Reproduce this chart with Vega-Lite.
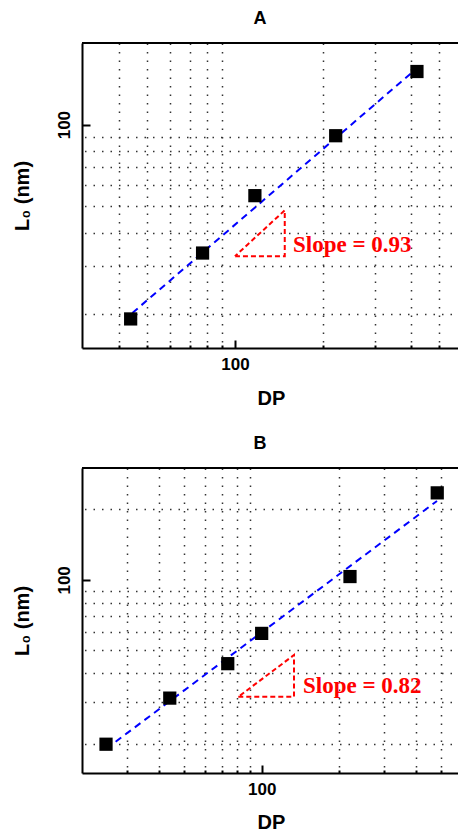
{
  "$schema": "https://vega.github.io/schema/vega-lite/v6.json",
  "background": "white",
  "padding": {"left": 12, "top": 10, "right": 0, "bottom": 0},
  "bounds": "flush",
  "spacing": 120,
  "config": {
    "view": {"stroke": null},
    "axis": {
      "gridDash": [1.5, 7],
      "gridColor": "#333333",
      "gridWidth": 1.5,
      "tickColor": "black",
      "tickWidth": 2,
      "domainColor": "black",
      "domainWidth": 2,
      "labelFont": "Liberation Sans",
      "labelFontSize": 17,
      "labelFontWeight": "bold",
      "labelColor": "black",
      "labelFlush": false,
      "labelOverlap": false,
      "labelBound": false,
      "titleFont": "Liberation Sans",
      "titleFontSize": 20,
      "titleFontWeight": "bold",
      "titleColor": "black"
    },
    "title": {"font": "Liberation Sans", "fontSize": 18, "fontWeight": "bold", "color": "black", "frame": "group", "dx": -11, "offset": 14}
  },
  "vconcat": [
    {
      "width": 378,
      "height": 305,
      "title": {"text": "A"},
      "resolve": {"axis": {"y": "independent"}},
      "layer": [
        {
          "data": {"values": [{"edge": "top"}]},
          "mark": {"type": "rule", "color": "black", "strokeWidth": 2},
          "encoding": {"y": {"datum": 200, "type": "quantitative", "scale": {"type": "log", "domain": [15, 200], "nice": false}, "axis": null}}
        },
        {
          "data": {"values": [{"DP": 44.6, "L0": 20.2}, {"DP": 414, "L0": 159.7}]},
          "mark": {"type": "line", "color": "#0000ff", "strokeWidth": 2, "strokeDash": [7, 5]},
          "encoding": {
            "x": {"field": "DP", "type": "quantitative", "scale": {"type": "log", "domain": [30, 588], "nice": false}},
            "y": {"field": "L0", "type": "quantitative", "scale": {"type": "log", "domain": [15, 200], "nice": false},
              "axis": {"orient": "right", "title": null, "values": [20, 30, 40, 50, 60, 70, 80, 90], "grid": true, "labels": false, "ticks": false, "domain": false}}
          }
        },
        {
          "data": {"values": [{"DP": 100, "L0": 32.7, "i": 1}, {"DP": 148, "L0": 32.7, "i": 2}, {"DP": 148, "L0": 48.3, "i": 3}, {"DP": 100, "L0": 32.7, "i": 4}]},
          "mark": {"type": "line", "color": "#ff0000", "strokeWidth": 2, "strokeDash": [5, 3]},
          "encoding": {
            "x": {"field": "DP", "type": "quantitative", "scale": {"type": "log", "domain": [30, 588], "nice": false}},
            "y": {"field": "L0", "type": "quantitative", "scale": {"type": "log", "domain": [15, 200], "nice": false}, "axis": null},
            "order": {"field": "i", "type": "quantitative"}
          }
        },
        {
          "data": {"values": [{"DP": 44, "L0": 19.2}, {"DP": 77.5, "L0": 33.6}, {"DP": 117, "L0": 54.7}, {"DP": 221, "L0": 91}, {"DP": 419, "L0": 157}]},
          "mark": {"type": "point", "shape": "square", "filled": true, "color": "black", "opacity": 1, "size": 175},
          "encoding": {
            "x": {"field": "DP", "type": "quantitative", "scale": {"type": "log", "domain": [30, 588], "nice": false},
              "axis": {"title": "DP", "values": [40, 50, 60, 70, 80, 90, 100, 200, 300, 400, 500], "grid": true,
                "labelExpr": "datum.value == 100 ? '100' : ''",
                "gridOpacity": {"condition": {"test": "datum.value == 100", "value": 0}, "value": 1},
                "tickSize": {"condition": {"test": "datum.value == 100", "value": -8}, "value": -3},
                "labelPadding": 24, "labelBaseline": "middle", "titlePadding": 11}},
            "y": {"field": "L0", "type": "quantitative", "scale": {"type": "log", "domain": [15, 200], "nice": false},
              "axis": {"orient": "left", "title": "L₀ (nm)", "values": [100], "grid": false, "tickSize": -8,
                "labelAngle": {"expr": "-90"}, "labelAlign": "center", "labelBaseline": "middle", "labelPadding": 26, "titlePadding": 23}}
          }
        },
        {
          "data": {"values": [{"DP": 158, "L0": 36.1, "label": "Slope = 0.93"}]},
          "mark": {"type": "text", "font": "Liberation Serif", "fontSize": 23, "fontWeight": "bold", "color": "#ff0000", "align": "left", "baseline": "middle"},
          "encoding": {
            "x": {"field": "DP", "type": "quantitative", "scale": {"type": "log", "domain": [30, 588], "nice": false}},
            "y": {"field": "L0", "type": "quantitative", "scale": {"type": "log", "domain": [15, 200], "nice": false}, "axis": null},
            "text": {"field": "label"}
          }
        }
      ]
    },
    {
      "width": 378,
      "height": 305,
      "title": {"text": "B"},
      "resolve": {"axis": {"y": "independent"}},
      "layer": [
        {
          "data": {"values": [{"edge": "top"}]},
          "mark": {"type": "rule", "color": "black", "strokeWidth": 2},
          "encoding": {"y": {"datum": 300, "type": "quantitative", "scale": {"type": "log", "domain": [15, 300], "nice": false}, "axis": null}}
        },
        {
          "data": {"values": [{"DP": 24.8, "L0": 19.0}, {"DP": 481, "L0": 217}]},
          "mark": {"type": "line", "color": "#0000ff", "strokeWidth": 2, "strokeDash": [7, 5]},
          "encoding": {
            "x": {"field": "DP", "type": "quantitative", "scale": {"type": "log", "domain": [20, 591], "nice": false}},
            "y": {"field": "L0", "type": "quantitative", "scale": {"type": "log", "domain": [15, 300], "nice": false},
              "axis": {"orient": "right", "title": null, "values": [20, 30, 40, 50, 60, 70, 80, 90, 200], "grid": true, "labels": false, "ticks": false, "domain": false}}
          }
        },
        {
          "data": {"values": [{"DP": 81.1, "L0": 31.7, "i": 1}, {"DP": 133.6, "L0": 31.7, "i": 2}, {"DP": 133.6, "L0": 47.8, "i": 3}, {"DP": 81.1, "L0": 31.7, "i": 4}]},
          "mark": {"type": "line", "color": "#ff0000", "strokeWidth": 2, "strokeDash": [5, 3]},
          "encoding": {
            "x": {"field": "DP", "type": "quantitative", "scale": {"type": "log", "domain": [20, 591], "nice": false}},
            "y": {"field": "L0", "type": "quantitative", "scale": {"type": "log", "domain": [15, 300], "nice": false}, "axis": null},
            "order": {"field": "i", "type": "quantitative"}
          }
        },
        {
          "data": {"values": [{"DP": 24.8, "L0": 19.9}, {"DP": 43.9, "L0": 31.3}, {"DP": 73.8, "L0": 43.9}, {"DP": 100, "L0": 59.1}, {"DP": 220.6, "L0": 103.3}, {"DP": 482, "L0": 235}]},
          "mark": {"type": "point", "shape": "square", "filled": true, "color": "black", "opacity": 1, "size": 175},
          "encoding": {
            "x": {"field": "DP", "type": "quantitative", "scale": {"type": "log", "domain": [20, 591], "nice": false},
              "axis": {"title": "DP", "values": [30, 40, 50, 60, 70, 80, 90, 100, 200, 300, 400, 500], "grid": true,
                "labelExpr": "datum.value == 100 ? '100' : ''",
                "gridOpacity": {"condition": {"test": "datum.value == 100", "value": 0}, "value": 1},
                "tickSize": {"condition": {"test": "datum.value == 100", "value": -8}, "value": -3},
                "labelPadding": 24, "labelBaseline": "middle", "titlePadding": 10}},
            "y": {"field": "L0", "type": "quantitative", "scale": {"type": "log", "domain": [15, 300], "nice": false},
              "axis": {"orient": "left", "title": "L₀ (nm)", "values": [100], "grid": false, "tickSize": -8,
                "labelAngle": {"expr": "-90"}, "labelAlign": "center", "labelBaseline": "middle", "labelPadding": 26, "titlePadding": 23}}
          }
        },
        {
          "data": {"values": [{"DP": 144.8, "L0": 35.2, "label": "Slope = 0.82"}]},
          "mark": {"type": "text", "font": "Liberation Serif", "fontSize": 23, "fontWeight": "bold", "color": "#ff0000", "align": "left", "baseline": "middle"},
          "encoding": {
            "x": {"field": "DP", "type": "quantitative", "scale": {"type": "log", "domain": [20, 591], "nice": false}},
            "y": {"field": "L0", "type": "quantitative", "scale": {"type": "log", "domain": [15, 300], "nice": false}, "axis": null},
            "text": {"field": "label"}
          }
        }
      ]
    }
  ]
}
